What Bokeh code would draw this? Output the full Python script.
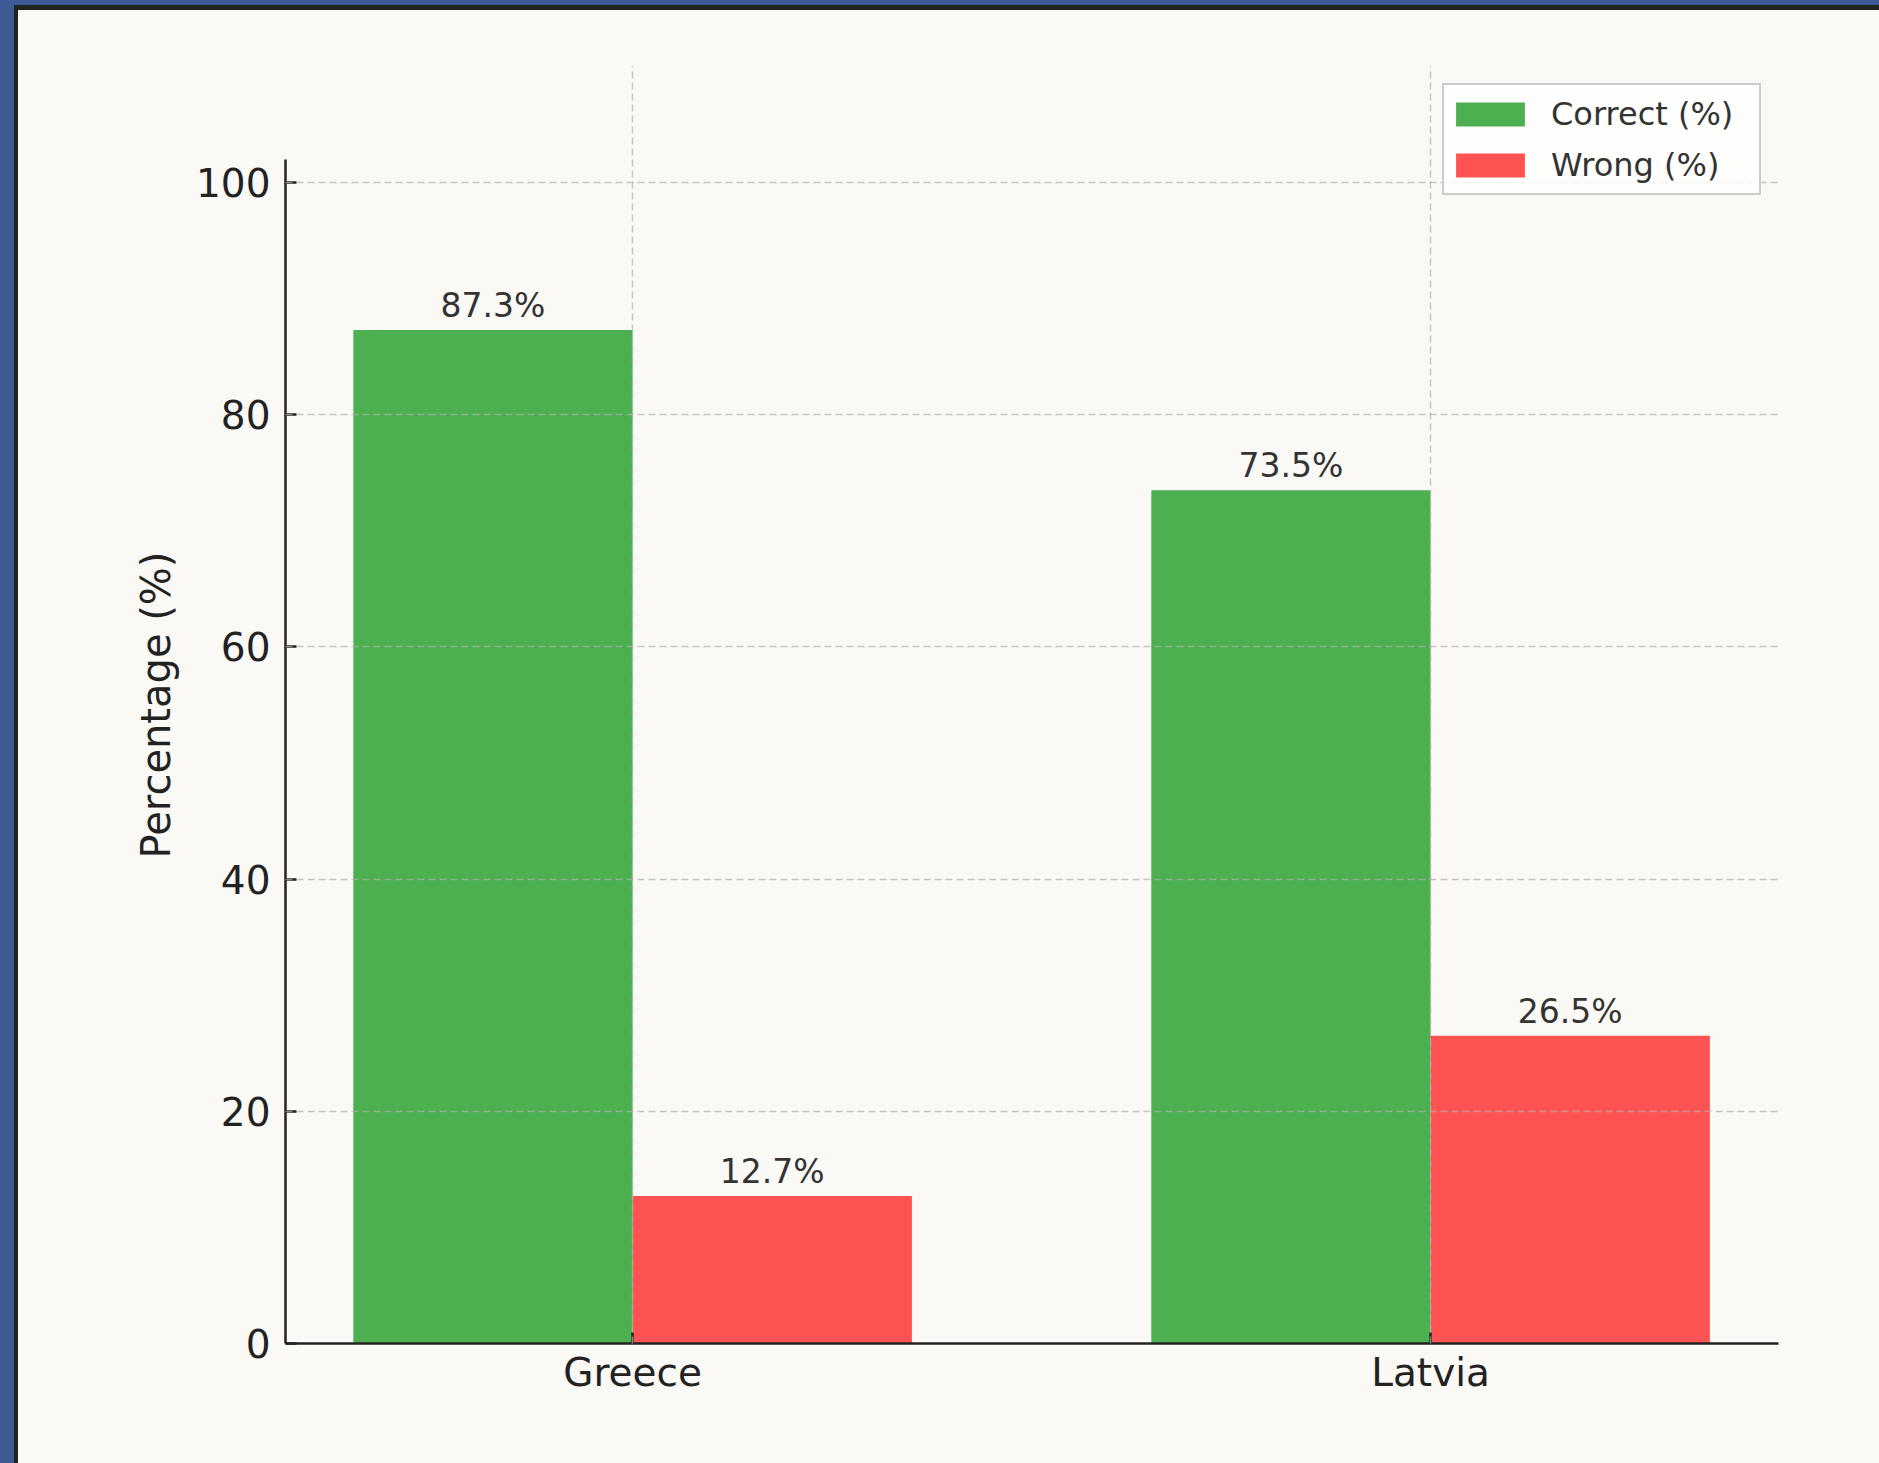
from bokeh.plotting import figure
from bokeh.models import (Range1d, FixedTicker, ColumnDataSource, LabelSet,
                          GlobalInlineStyleSheet)
from bokeh.core.properties import value
from bokeh.embed import file_html
from bokeh.resources import INLINE

# ---- data ----
categories = ["Greece", "Latvia"]
correct_pct = [87.3, 73.5]
wrong_pct = [12.7, 26.5]
series_names = ["Correct (%)", "Wrong (%)"]
y_ticks = [0, 20, 40, 60, 80, 100]
y_label = "Percentage (%)"

# ---- styling ----
BAR_W = 0.35
GREEN = "#4CAF50"
RED = "#FF5252"
CREAM = "#FAF9F6"
FONT = "DejaVu Sans"

idx = list(range(len(categories)))

src_c = ColumnDataSource(dict(
    x=[i - BAR_W / 2 for i in idx], top=correct_pct,
    label=[f"{v:.1f}%" for v in correct_pct]))
src_w = ColumnDataSource(dict(
    x=[i + BAR_W / 2 for i in idx], top=wrong_pct,
    label=[f"{v:.1f}%" for v in wrong_pct]))

p = figure(width=1863, height=1447, output_backend="svg", toolbar_location=None,
           x_range=Range1d(-0.435, 1.436), y_range=Range1d(0, 110),
           min_border_left=285, min_border_right=85,
           min_border_top=66, min_border_bottom=104)

css = """
html {
  background-color: %s;
  background-image:
    linear-gradient(to right, #3D5A94 14px, transparent 14px),
    linear-gradient(to bottom, #3D5A94 5px, transparent 5px),
    linear-gradient(to right, #222222 18px, transparent 18px),
    linear-gradient(to bottom, #222222 10px, transparent 10px);
  min-height: 100%%;
}
""" % CREAM
p.stylesheets = [GlobalInlineStyleSheet(css=css)]

p.border_fill_alpha = 0
p.background_fill_color = CREAM
p.outline_line_color = None

p.vbar(x="x", top="top", width=BAR_W, bottom=0, source=src_c,
       fill_color=GREEN, line_color=None, legend_label=series_names[0])
p.vbar(x="x", top="top", width=BAR_W, bottom=0, source=src_w,
       fill_color=RED, line_color=None, legend_label=series_names[1])

for src in (src_c, src_w):
    p.add_layout(LabelSet(x="x", y="top", text="label", source=src,
                          text_align="center", text_baseline="alphabetic",
                          y_offset=13, text_font_size="33px",
                          text_color="#333333", text_font=value(FONT)))

# axes
for ax in (p.xaxis[0], p.yaxis[0]):
    ax.axis_line_color = "#222222"
    ax.axis_line_width = 2.5
    ax.major_tick_line_color = "#222222"
    ax.major_tick_line_width = 2.5
    ax.major_tick_in = 11
    ax.major_tick_out = 0
    ax.minor_tick_line_color = None
    ax.major_label_text_font = FONT
    ax.major_label_text_font_size = "39px"
    ax.major_label_text_color = "#222222"

p.xaxis.ticker = FixedTicker(ticks=idx)
p.xaxis.major_label_overrides = {i: c for i, c in zip(idx, categories)}
p.xaxis.major_label_standoff = 6

p.yaxis.ticker = FixedTicker(ticks=y_ticks)
p.yaxis.major_label_standoff = 15
p.yaxis.bounds = (0, 102)
p.yaxis.axis_label = y_label
p.yaxis.axis_label_text_font = FONT
p.yaxis.axis_label_text_font_size = "40px"
p.yaxis.axis_label_text_font_style = "normal"
p.yaxis.axis_label_text_color = "#222222"
p.yaxis.axis_label_standoff = 14

# grid
p.xgrid.ticker = FixedTicker(ticks=idx)
p.ygrid.ticker = FixedTicker(ticks=y_ticks)
for g in (p.xgrid[0], p.ygrid[0]):
    g.grid_line_color = "#b0b0b0"
    g.grid_line_alpha = 0.7
    g.grid_line_dash = "7 4"
    g.grid_line_width = 1.5
    g.level = "annotation"

# legend
lg = p.legend[0]
lg.location = "top_right"
lg.margin = 17
lg.padding = 3
lg.spacing = 0
lg.label_standoff = 18
lg.glyph_width = 86
lg.glyph_height = 30
lg.label_height = 51
lg.label_width = 205
lg.label_text_font = FONT
lg.label_text_font_size = "32px"
lg.label_text_color = "#333333"
lg.border_line_color = "#cccccc"
lg.border_line_width = 2
lg.border_line_alpha = 1
lg.background_fill_color = "white"
lg.background_fill_alpha = 0.8

open("out.html", "w").write(file_html(p, INLINE))
